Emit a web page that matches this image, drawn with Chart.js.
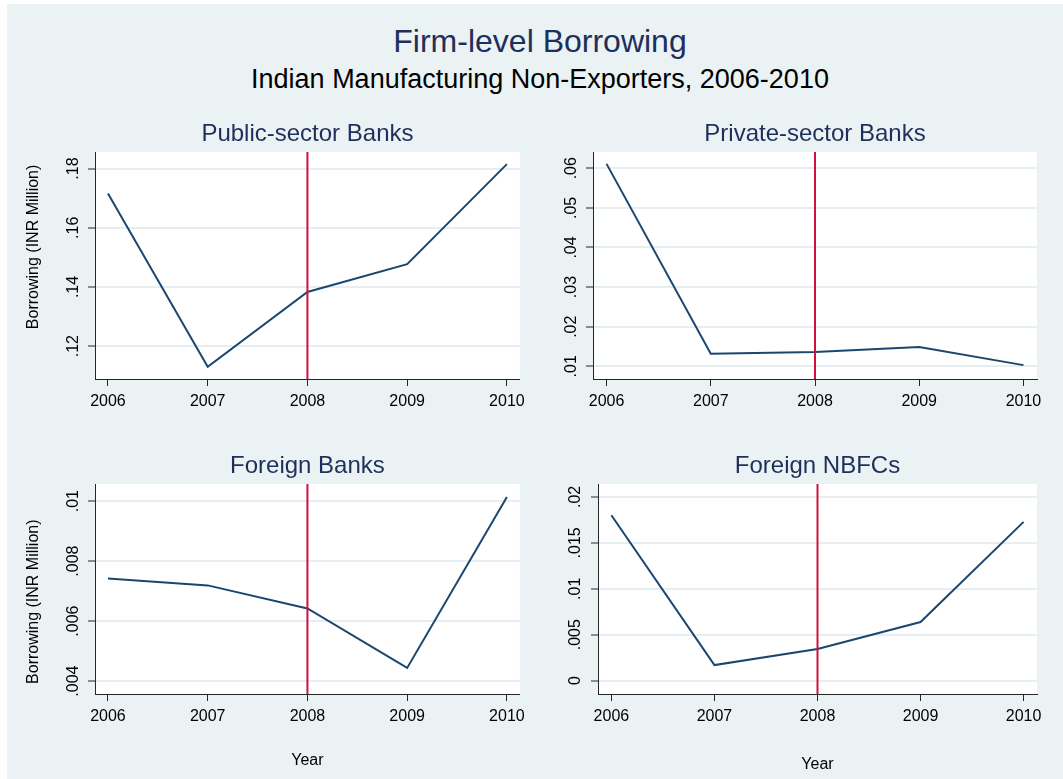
<!DOCTYPE html>
<html>
<head>
<meta charset="utf-8">
<title>Firm-level Borrowing</title>
<script src="https://cdn.jsdelivr.net/npm/chart.js@4.4.1/dist/chart.umd.min.js"></script>
<style>
	body { margin:0; width:1063px; height:779px; background:#fff; overflow:hidden; font-family:"Liberation Sans", Arial, sans-serif; }
	#graph_bg { position:absolute; left:7px; top:4px; width:1056px; height:775px; background:#eaf2f3; }
	#graph_title { position:absolute; left:0; top:25px; width:1080px; text-align:center; font-size:32px; line-height:32px; color:#1e2f5c; }
	#graph_subtitle { position:absolute; left:0; top:66px; width:1080px; text-align:center; font-size:27px; line-height:27px; color:#000; }
	.panel_box { position:absolute; }
</style>
</head>
<body>
<div id="graph_bg"></div>
<div id="graph_title">Firm-level Borrowing</div>
<div id="graph_subtitle">Indian Manufacturing Non-Exporters, 2006-2010</div>
<canvas id="panel_public" class="panel_box" width="524" height="322" style="left:7px;top:108px"></canvas>
<canvas id="panel_private" class="panel_box" width="532" height="322" style="left:531px;top:108px"></canvas>
<canvas id="panel_foreign" class="panel_box" width="524" height="339" style="left:7px;top:440px"></canvas>
<canvas id="panel_nbfc" class="panel_box" width="532" height="339" style="left:531px;top:440px"></canvas>
<script>
var years = [2006, 2007, 2008, 2009, 2010];
var year_range = [2005.87, 2010.13];
var crisis_year = 2008;

//mean borrowing per firm, INR million
var public_banks = [0.1716, 0.1130, 0.1383, 0.1477, 0.1815];
var private_banks = [0.0611, 0.0132, 0.0136, 0.0149, 0.0103];
var foreign_banks = [0.00742, 0.00719, 0.00642, 0.00444, 0.01014];
var foreign_nbfcs = [0.0180, 0.0017, 0.00345, 0.00638, 0.01728];

var public_ticks = [0.12, 0.14, 0.16, 0.18];
var private_ticks = [0.01, 0.02, 0.03, 0.04, 0.05, 0.06];
var foreign_ticks = [0.004, 0.006, 0.008, 0.01];
var nbfc_ticks = [0, 0.005, 0.01, 0.015, 0.02];

var public_range = [0.1089, 0.1856];
var private_range = [0.0068, 0.0641];
var foreign_range = [0.00357, 0.01057];
var nbfc_range = [-0.00145, 0.0214];

var y_axis_title = 'Borrowing (INR Million)';
var x_axis_title = 'Year';

var font_family = '"Liberation Sans", Arial, sans-serif';
var line_color = '#1a476f';
var xline_color = '#d0103f';
var axis_color = '#262626';
var grid_color = '#e6eef1';
var title_color = '#1e2f5c';

Chart.defaults.font.family = font_family;
Chart.defaults.color = '#000';

var wcds_panel_text = {
	id: 'panel_text',
	beforeDraw: function(chart)
	{
		var ctx = chart.ctx, a = chart.chartArea;
		ctx.save();
		ctx.fillStyle = '#fff';
		ctx.fillRect(a.left, a.top, a.right - a.left, a.bottom - a.top);
		ctx.restore();
	},
	afterDraw: function(chart, args, opts)
	{
		var ctx = chart.ctx, a = chart.chartArea;
		ctx.save();
		ctx.font = '24px ' + font_family;
		ctx.fillStyle = title_color;
		ctx.textAlign = 'center';
		ctx.textBaseline = 'middle';
		ctx.fillText(opts.title, (a.left + a.right) / 2, a.top - 17.5);
		if(opts.y_title)
		{
			ctx.translate(a.left - 61, (a.top + a.bottom) / 2 + opts.y_title_shift);
			ctx.rotate(-Math.PI / 2);
			ctx.font = '16px ' + font_family;
			ctx.fillStyle = '#000';
			ctx.fillText(opts.y_title, 0, 0);
		}
		ctx.restore();
	}
};

function stata_label(value)
{
	if(value == 0)
		return '0';
	return String(value).replace(/^(-?)0\./, '$1.');
}

function create_panel(p)
{
	var canvas = document.getElementById(p.canvas);
	var W = canvas.width, H = canvas.height;
	var points = [];
	for(var i = 0; i < years.length; i++)
		points.push({x: years[i], y: p.values[i]});

	var x_axis = {
		type: 'linear',
		min: year_range[0],
		max: year_range[1],
		afterBuildTicks: function(scale) { scale.ticks = years.map(function(v){ return {value: v}; }); },
		afterFit: function(scale) { scale.height = H - p.area.bottom; },
		ticks: { font: {size: 16}, padding: 6, maxRotation: 0, callback: function(v){ return String(v); } },
		grid: { drawOnChartArea: false, tickLength: 7, tickColor: axis_color, tickWidth: 1 },
		border: { color: axis_color, width: 1 },
		title: { display: p.x_title, text: x_axis_title, font: {size: 16}, padding: {top: 0, bottom: p.x_title_pad} }
	};
	var y_axis = {
		min: p.range[0],
		max: p.range[1],
		afterBuildTicks: function(scale) { scale.ticks = p.ticks.map(function(v){ return {value: v}; }); },
		afterFit: function(scale) { scale.width = p.area.left; },
		ticks: { font: {size: 16}, minRotation: 90, maxRotation: 90, crossAlign: 'center', padding: p.y_label_pad, callback: stata_label },
		grid: { color: grid_color, lineWidth: 2, tickLength: 7, tickColor: axis_color, tickWidth: 1 },
		border: { color: axis_color, width: 1 }
	};

	//the 2008 marker sits on top of the series
	return new Chart(canvas.getContext('2d'), {
		type: 'line',
		data: {
			datasets: [
				{ data: points, borderColor: line_color, borderWidth: 2, pointRadius: 0, tension: 0, order: 1 },
				{ data: [{x: crisis_year, y: p.range[0]}, {x: crisis_year, y: p.range[1]}], borderColor: xline_color, borderWidth: 2, pointRadius: 0, order: 0 }
			]
		},
		options: {
			responsive: false,
			animation: false,
			layout: { padding: {left: 0, top: p.area.top, right: W - p.area.right, bottom: 0} },
			scales: { x: x_axis, y: y_axis },
			plugins: {
				legend: {display: false},
				tooltip: {enabled: false},
				panel_text: { title: p.title, y_title: p.y_title ? y_axis_title : null, y_title_shift: p.y_title_shift }
			}
		},
		plugins: [wcds_panel_text]
	});
}

create_panel({ canvas: 'panel_public', title: 'Public-sector Banks', values: public_banks, ticks: public_ticks, range: public_range,
	area: {left: 88, top: 44, right: 514, bottom: 271}, y_label_pad: 3, y_title: true, y_title_shift: -18.6, x_title: false, x_title_pad: 0 });
create_panel({ canvas: 'panel_private', title: 'Private-sector Banks', values: private_banks, ticks: private_ticks, range: private_range,
	area: {left: 62, top: 44, right: 506, bottom: 271}, y_label_pad: 3, y_title: false, y_title_shift: 0, x_title: false, x_title_pad: 0 });
create_panel({ canvas: 'panel_foreign', title: 'Foreign Banks', values: foreign_banks, ticks: foreign_ticks, range: foreign_range,
	area: {left: 88, top: 44, right: 514, bottom: 254}, y_label_pad: -1.6, y_title: true, y_title_shift: 12.7, x_title: true, x_title_pad: 8.4 });
create_panel({ canvas: 'panel_nbfc', title: 'Foreign NBFCs', values: foreign_nbfcs, ticks: nbfc_ticks, range: nbfc_range,
	area: {left: 67, top: 44, right: 506, bottom: 254}, y_label_pad: -0.6, y_title: false, y_title_shift: 0, x_title: true, x_title_pad: 4.4 });
</script>
</body>
</html>
